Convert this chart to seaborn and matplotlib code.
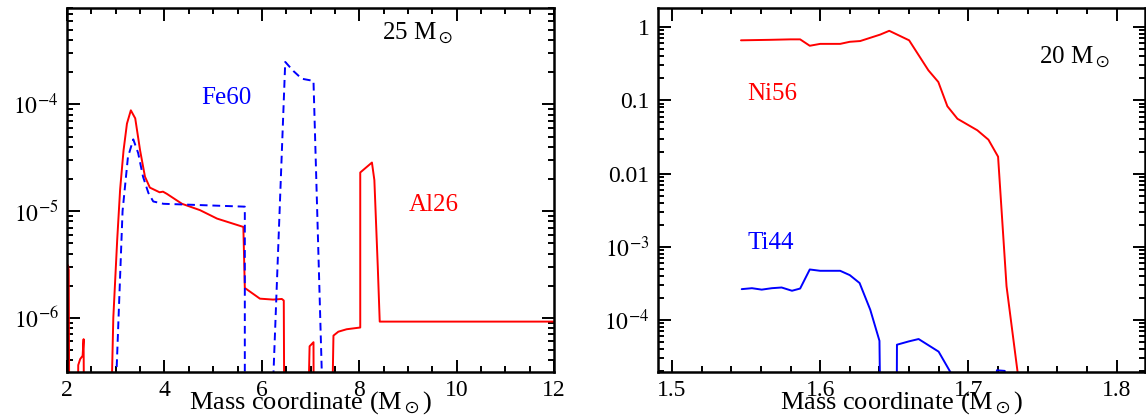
import matplotlib
matplotlib.use("Agg")
import matplotlib.pyplot as plt
import seaborn as sns
from matplotlib.ticker import LogLocator, MultipleLocator, NullFormatter

# 25 Msun model: Al26 (solid red) and Fe60 (dashed blue) mass fractions
al26_x = [2.02, 2.02, 2.035, 2.06, 2.18, 2.23, 2.27, 2.32, 2.34, 2.37,
          2.80, 2.95, 3.03, 3.09, 3.16, 3.23, 3.31, 3.40, 3.50, 3.60, 3.70,
          3.90, 3.97, 4.05, 4.36, 4.73, 5.08, 5.62, 5.65, 5.68, 5.96, 6.23,
          6.41, 6.45, 6.48, 6.85, 6.98, 7.06, 7.08, 7.36, 7.47, 7.57, 7.74,
          8.02, 8.02, 8.26, 8.31, 8.38, 8.42, 12.0]
al26_y = [1e-9, 3.1e-6, 2.8e-6, 1e-9, 1e-9, 3.6e-7, 4.1e-7, 4.4e-7, 6.3e-7, 1e-9,
          1e-9, 1.0e-6, 5.4e-6, 1.6e-5, 3.7e-5, 6.6e-5, 8.8e-5, 7.4e-5, 3.7e-5,
          2.1e-5, 1.66e-5, 1.5e-5, 1.52e-5, 1.45e-5, 1.17e-5, 1.02e-5, 8.5e-6,
          7.1e-6, 1.9e-6, 1.86e-6, 1.51e-6, 1.48e-6, 1.5e-6, 1.45e-6, 1e-9,
          1e-9, 5.4e-7, 5.9e-7, 1e-9, 1e-9, 6.8e-7, 7.4e-7, 7.8e-7, 8.1e-7,
          2.3e-5, 2.85e-5, 1.95e-5, 3.0e-6, 9.2e-7, 9.2e-7]

fe60_x = [3.00, 3.14, 3.25, 3.36, 3.46, 3.56, 3.67, 3.77, 3.98, 5.65, 5.65,
          6.22, 6.48, 6.65, 6.82, 7.06, 7.25]
fe60_y = [2.0e-7, 1.0e-5, 3.2e-5, 4.7e-5, 3.5e-5, 2.1e-5, 1.48e-5, 1.23e-5,
          1.17e-5, 1.1e-5, 1e-9, 1.8e-7, 2.5e-4, 2.05e-4, 1.74e-4, 1.66e-4, 1.5e-7]

# 20 Msun model: Ni56 and Ti44
ni56_x = [1.5466, 1.566, 1.580, 1.5865, 1.593, 1.600, 1.6135, 1.620, 1.627,
          1.6405, 1.6466, 1.660, 1.673, 1.6797, 1.6858, 1.6926, 1.706, 1.7135,
          1.720, 1.7257, 1.735]
ni56_y = [0.66, 0.67, 0.68, 0.68, 0.556, 0.59, 0.59, 0.63, 0.645, 0.79, 0.89,
          0.66, 0.257, 0.178, 0.083, 0.056, 0.039, 0.029, 0.017, 2.9e-4, 1e-5]

ti44_x = [1.5471, 1.554, 1.5606, 1.5674, 1.574, 1.581, 1.5865, 1.593, 1.600,
          1.6135, 1.620, 1.6266, 1.6338, 1.640, 1.641, 1.6515, 1.6518, 1.6597,
          1.6664, 1.6799, 1.6878, 1.690, 1.7185, 1.7192, 1.7245, 1.7265]
ti44_y = [2.64e-4, 2.72e-4, 2.6e-4, 2.72e-4, 2.78e-4, 2.51e-4, 2.69e-4, 4.9e-4,
          4.7e-4, 4.7e-4, 4.1e-4, 3.2e-4, 1.38e-4, 5.2e-5, 1e-6, 1e-6, 4.6e-5,
          5.1e-5, 5.5e-5, 3.7e-5, 1.95e-5, 1e-6, 1e-6, 2.06e-5, 2.02e-5, 1e-6]

left_yticks = [1e-6, 1e-5, 1e-4]
left_ylabels = [r"$10^{-6}$", r"$10^{-5}$", r"$10^{-4}$"]
right_yticks = [1e-4, 1e-3, 1e-2, 0.1, 1]
right_ylabels = [r"$10^{-4}$", r"$10^{-3}$", "0.01", "0.1", "1"]

sns.set_style("ticks")
plt.rcParams["font.family"] = ["Liberation Serif", "DejaVu Serif"]
plt.rcParams["mathtext.fontset"] = "stix"
for key in ("text.color", "axes.labelcolor", "axes.edgecolor",
            "xtick.color", "ytick.color"):
    plt.rcParams[key] = "black"

fig = plt.figure(figsize=(11.46, 4.15), dpi=100)
ax1 = fig.add_axes([0.0585, 0.1036, 0.425, 0.877])
ax2 = fig.add_axes([0.574, 0.1036, 0.425, 0.877])

sns.lineplot(x=al26_x, y=al26_y, ax=ax1, color="red", lw=1.4,
             sort=False, estimator=None)
sns.lineplot(x=fe60_x, y=fe60_y, ax=ax1, color="blue", lw=1.4,
             linestyle=(0, (4, 2.5)), sort=False, estimator=None)
sns.lineplot(x=ni56_x, y=ni56_y, ax=ax2, color="red", lw=1.4,
             sort=False, estimator=None)
sns.lineplot(x=ti44_x, y=ti44_y, ax=ax2, color="blue", lw=1.4,
             sort=False, estimator=None)

for ax in (ax1, ax2):
    ax.set_yscale("log")
    ax.yaxis.set_minor_locator(LogLocator(base=10, subs=range(2, 10), numticks=20))
    ax.yaxis.set_minor_formatter(NullFormatter())
    ax.tick_params(which="both", direction="in", top=True, right=True,
                   width=1.4, labelsize=17, pad=6)
    ax.tick_params(which="major", length=9)
    ax.tick_params(which="minor", length=4.5)
    for sp in ax.spines.values():
        sp.set_linewidth(1.8)
    ax.set_xlabel(r"Mass coordinate (M$_\odot$)", fontsize=19, va="center")
    ax.xaxis.set_label_coords(0.5, -0.085)
    ax.set_ylabel("")

ax1.set_xlim(2, 12)
ax1.set_ylim(3.1e-7, 8e-4)
ax1.xaxis.set_major_locator(MultipleLocator(2))
ax1.xaxis.set_minor_locator(MultipleLocator(0.5))
ax1.set_yticks(left_yticks)
ax1.set_yticklabels(left_ylabels)

ax2.set_xlim(1.4905, 1.819)
ax2.set_ylim(1.95e-5, 1.82)
ax2.xaxis.set_major_locator(MultipleLocator(0.1))
ax2.xaxis.set_minor_locator(MultipleLocator(0.02))
ax2.set_yticks(right_yticks)
ax2.set_yticklabels(right_ylabels)

ax1.text(0.72, 0.93, r"25 M$_\odot$", transform=ax1.transAxes, fontsize=18,
         ha="center", va="center")
ax1.text(5.27, 1.14e-4, "Fe60", color="blue", fontsize=18, ha="center", va="center")
ax1.text(9.52, 1.15e-5, "Al26", color="red", fontsize=18, ha="center", va="center")
ax2.text(0.856, 0.863, r"20 M$_\odot$", transform=ax2.transAxes, fontsize=18,
         ha="center", va="center")
ax2.text(1.568, 0.122, "Ni56", color="red", fontsize=18, ha="center", va="center")
ax2.text(1.567, 1.13e-3, "Ti44", color="blue", fontsize=18, ha="center", va="center")

fig.savefig("out.png", dpi=100)
